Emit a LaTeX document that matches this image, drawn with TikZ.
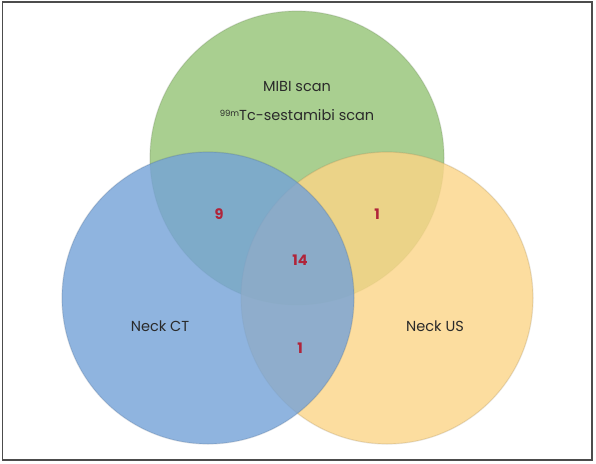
\documentclass[tikz,border=0pt]{standalone}
\usepackage{fontspec}
\setmainfont{Poppins}
\definecolor{gfill}{HTML}{A9CF90}
\definecolor{bfill}{HTML}{74A2D8}
\definecolor{yfill}{HTML}{FCD587}
\definecolor{numred}{HTML}{B0243A}
\definecolor{txt}{HTML}{2A2A2A}
\tikzset{
  vcircle/.style={circle, draw opacity=0.2, line width=1.2pt, inner sep=0pt},
  setlabel/.style={font=\fontsize{14.5}{17}\selectfont, text=txt},
  count/.style={font=\bfseries\fontsize{14.5}{17}\selectfont, text=numred}
}
\begin{document}
\begin{tikzpicture}[x=1pt,y=-1pt]
\useasboundingbox (0,0) rectangle (596,463);
\fill[white] (0,0) rectangle (596,463);
\draw[black!70, line width=1.6pt] (2.5,2) rectangle (592,460);
\node[vcircle, fill=gfill, fill opacity=1, draw=gfill!55!black, minimum size=294pt] (mibi) at (297,158) {};
\node[vcircle, fill=yfill, fill opacity=0.8, draw=yfill!55!black, minimum size=292pt] (us) at (387,298) {};
\node[vcircle, fill=bfill, fill opacity=0.8, draw=bfill!55!black, minimum size=292pt] (ct) at (208,298) {};
\node[setlabel] (l1) at (297,87) {MIBI scan};
\node[setlabel] (l2) at (297,115) {\raisebox{0.55ex}{\fontsize{8.5}{9}\selectfont 99m}Tc-sestamibi scan};
\node[setlabel] (l3) at (160,326) {Neck CT};
\node[setlabel] (l4) at (435,326) {Neck US};
\node[count] (n1) at (219,214) {9};
\node[count] (n2) at (377,214) {1};
\node[count] (n3) at (300,260) {14};
\node[count] (n4) at (300,348) {1};
\end{tikzpicture}
\end{document}
